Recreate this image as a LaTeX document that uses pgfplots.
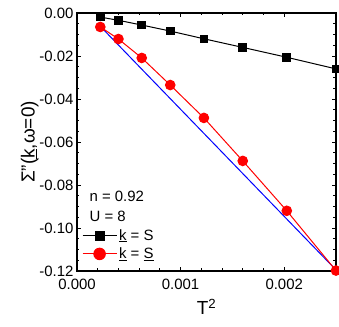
\documentclass[border=0pt]{standalone}
\usepackage{fontspec}
\setmainfont{Liberation Sans}
\usepackage{pgfplots}
\pgfplotsset{compat=1.18}
\usetikzlibrary{calc}
\begin{document}
\begin{tikzpicture}
\begin{axis}[
  width=259bp, height=258bp, scale only axis,
  xmin=0, xmax=0.0025, ymin=-0.12, ymax=0,
  xtick={0,0.001,0.002}, ytick={-0.12,-0.10,-0.08,-0.06,-0.04,-0.02,0},
  minor x tick num=4, minor y tick num=3,
  tick align=inside, xtick pos=both, ytick pos=both,
  major tick length=4bp, minor tick length=2.5bp,
  scaled ticks=false,
  /pgf/number format/assume math mode=true,
  ticklabel style={font=\fontsize{15}{17}\selectfont},
  xticklabel style={yshift=-5bp, /pgf/number format/.cd, fixed, fixed zerofill, precision=3},
  yticklabel style={/pgf/number format/.cd, fixed, fixed zerofill, precision=2},
  axis line style={line width=1.2pt},
  every tick/.style={line width=0.8pt, black},
  xlabel={T\textsuperscript{2}}, ylabel={Σ"(\underline{k},ω=0)},
  xlabel style={font=\fontsize{19}{21}\selectfont, yshift=-2bp},
  ylabel style={font=\fontsize{19}{21}\selectfont, yshift=-6bp},
  legend style={draw=none, fill=none, at={(0.015,0.03)}, anchor=south west,
    font=\fontsize{15}{17}\selectfont, row sep=2bp, inner sep=1bp},
  legend cell align=left,
  legend image code/.code={\draw[mark repeat=2,mark phase=2, every mark/.append style={scale=1.2}] plot coordinates {(0cm,0cm)(0.6cm,0cm)(1.2cm,0cm)};},
  clip=false,
]
\addplot[blue, line width=1pt, forget plot] coordinates {(0.000225,-0.0062) (0.0025,-0.1195)};
\addplot[black, line width=1pt, mark=square*, mark size=3.8bp] coordinates {
 (0.000225,-0.0019) (0.0004,-0.0034) (0.000625,-0.0056) (0.0009,-0.0084)
 (0.001225,-0.0120) (0.0016,-0.0160) (0.002025,-0.0206) (0.0025,-0.0260)};
\addlegendentry{\underline{k} = S}
\addplot[red, line width=1pt, mark=*, mark size=4.8bp] coordinates {
 (0.000225,-0.0065) (0.0004,-0.0121) (0.000625,-0.0209) (0.0009,-0.0335)
 (0.001225,-0.0488) (0.0016,-0.0688) (0.002025,-0.0920) (0.0025,-0.1198)};
\addlegendentry{\underline{k} = \underline{S}}
\node[anchor=west, font=\fontsize{15}{17}\selectfont] at (rel axis cs:0.035,0.29) {n = 0.92};
\node[anchor=west, font=\fontsize{15}{17}\selectfont] at (rel axis cs:0.035,0.21) {U = 8};
\end{axis}
\pgfresetboundingbox
\path ($(current axis.south west)+(-77bp,-56bp)$) rectangle ($(current axis.north east)+(3bp,13bp)$);
\end{tikzpicture}
\end{document}
